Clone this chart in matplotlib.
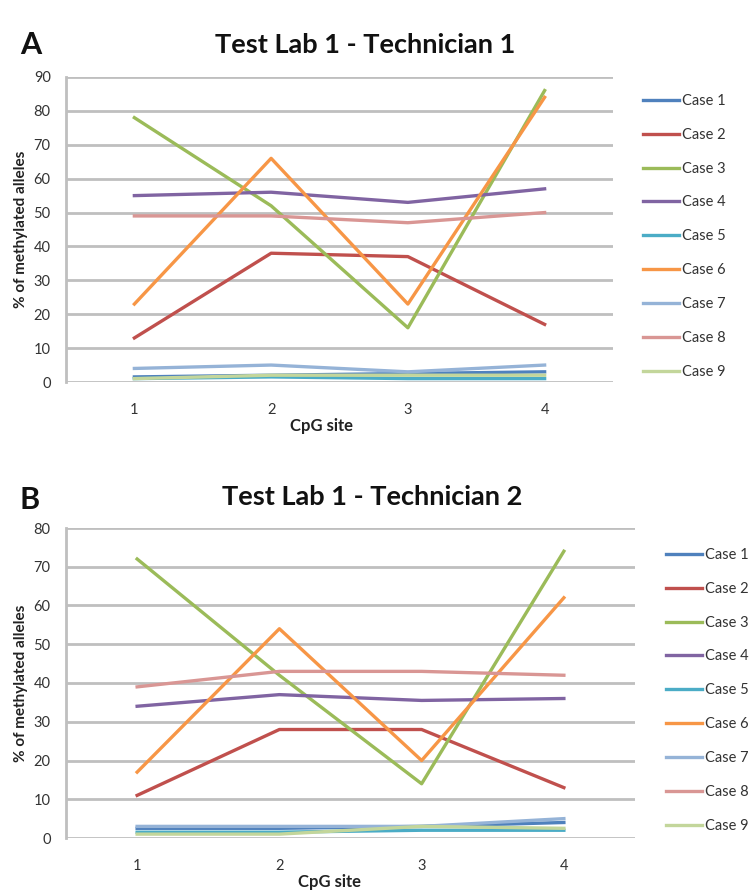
import matplotlib
matplotlib.use("Agg")
import matplotlib.pyplot as plt

plt.rcParams['font.family'] = ['Lato', 'DejaVu Sans']

W, H = 751, 891

sites = [1, 2, 3, 4]
case_labels = ["Case 1", "Case 2", "Case 3", "Case 4", "Case 5",
               "Case 6", "Case 7", "Case 8", "Case 9"]
colors = ["#4F81BD", "#C0504D", "#9BBB59", "#8064A2", "#4BACC6",
          "#F79646", "#95B3D7", "#D99694", "#C3D69B"]

# Panel A: Technician 1
tech1 = [
    [1.5, 2, 2.5, 3],      # Case 1
    [13, 38, 37, 17],      # Case 2
    [78, 52, 16, 86],      # Case 3
    [55, 56, 53, 57],      # Case 4
    [1, 1.5, 1, 1],        # Case 5
    [23, 66, 23, 84],      # Case 6
    [4, 5, 3, 5],          # Case 7
    [49, 49, 47, 50],      # Case 8
    [1, 2, 2, 2],          # Case 9
]
# Panel B: Technician 2
tech2 = [
    [2.5, 2.5, 3, 4],      # Case 1
    [11, 28, 28, 13],      # Case 2
    [72, 42, 14, 74],      # Case 3
    [34, 37, 35.5, 36],    # Case 4
    [1.5, 1.5, 2, 2],      # Case 5
    [17, 54, 20, 62],      # Case 6
    [3, 3, 3, 5],          # Case 7
    [39, 43, 43, 42],      # Case 8
    [1, 1, 3, 2.5],        # Case 9
]

fig = plt.figure(figsize=(W / 100, H / 100), dpi=100)


def fx(px):
    return px / W


def fy(py):
    return 1 - py / H


def panel(box, data, ymax, title, letter, letter_xy, title_xy, legend_xy,
          xlabel_xy):
    l, r, t, b = box
    ax = fig.add_axes([fx(l), fy(b), fx(r) - fx(l), fy(t) - fy(b)])
    for vals, lab, col in zip(data, case_labels, colors):
        ax.plot(sites, vals, color=col, lw=2.4, label=lab)
    ax.set_xlim(0.5, 4.5)
    ax.set_ylim(0, ymax)
    ax.set_yticks(range(0, ymax + 1, 10))
    ax.set_xticks(sites)
    ax.yaxis.grid(True, color="#BFBFBF", lw=2)
    ax.set_axisbelow(True)
    for s in ["top", "right", "bottom"]:
        ax.spines[s].set_visible(False)
    ax.spines["left"].set_color("#BFBFBF")
    ax.spines["left"].set_linewidth(2)
    ax.tick_params(length=0, labelsize=10.5, colors="#333333")
    ax.tick_params(axis='x', pad=15)
    ax.tick_params(axis='y', pad=11)
    ax.set_ylabel("% of methylated alleles", fontsize=11, fontweight='bold',
                  labelpad=4, color="#222222")
    fig.text(fx(xlabel_xy[0]), fy(xlabel_xy[1]), "CpG site", ha='center',
             va='center', fontsize=12, fontweight='bold', color="#222222")
    fig.text(fx(title_xy[0]), fy(title_xy[1]), title, ha='center', va='center',
             fontsize=19.5, fontweight='bold', color="#111111")
    fig.text(fx(letter_xy[0]), fy(letter_xy[1]), letter, ha='left', va='center',
             fontsize=22, fontweight='bold', color="#111111")
    leg = fig.legend(handles=ax.get_lines(), labels=case_labels, loc='upper left',
                     bbox_to_anchor=(fx(legend_xy[0]), fy(legend_xy[1])),
                     frameon=False, fontsize=10.5, handlelength=2.45,
                     handletextpad=0.2, labelspacing=1.36,
                     borderaxespad=0, borderpad=0)
    for t in leg.get_texts():
        t.set_color("#333333")
    return ax


panel((66, 613, 77, 382), tech1, 90, "Test Lab 1 - Technician 1", "A",
      (20, 45), (365, 45), (643, 94), (322, 426))
panel((66, 635, 528, 838), tech2, 80, "Test Lab 1 - Technician 2", "B",
      (20, 500), (372, 497), (666, 548), (329, 882))

fig.savefig("out.png", dpi=100)
